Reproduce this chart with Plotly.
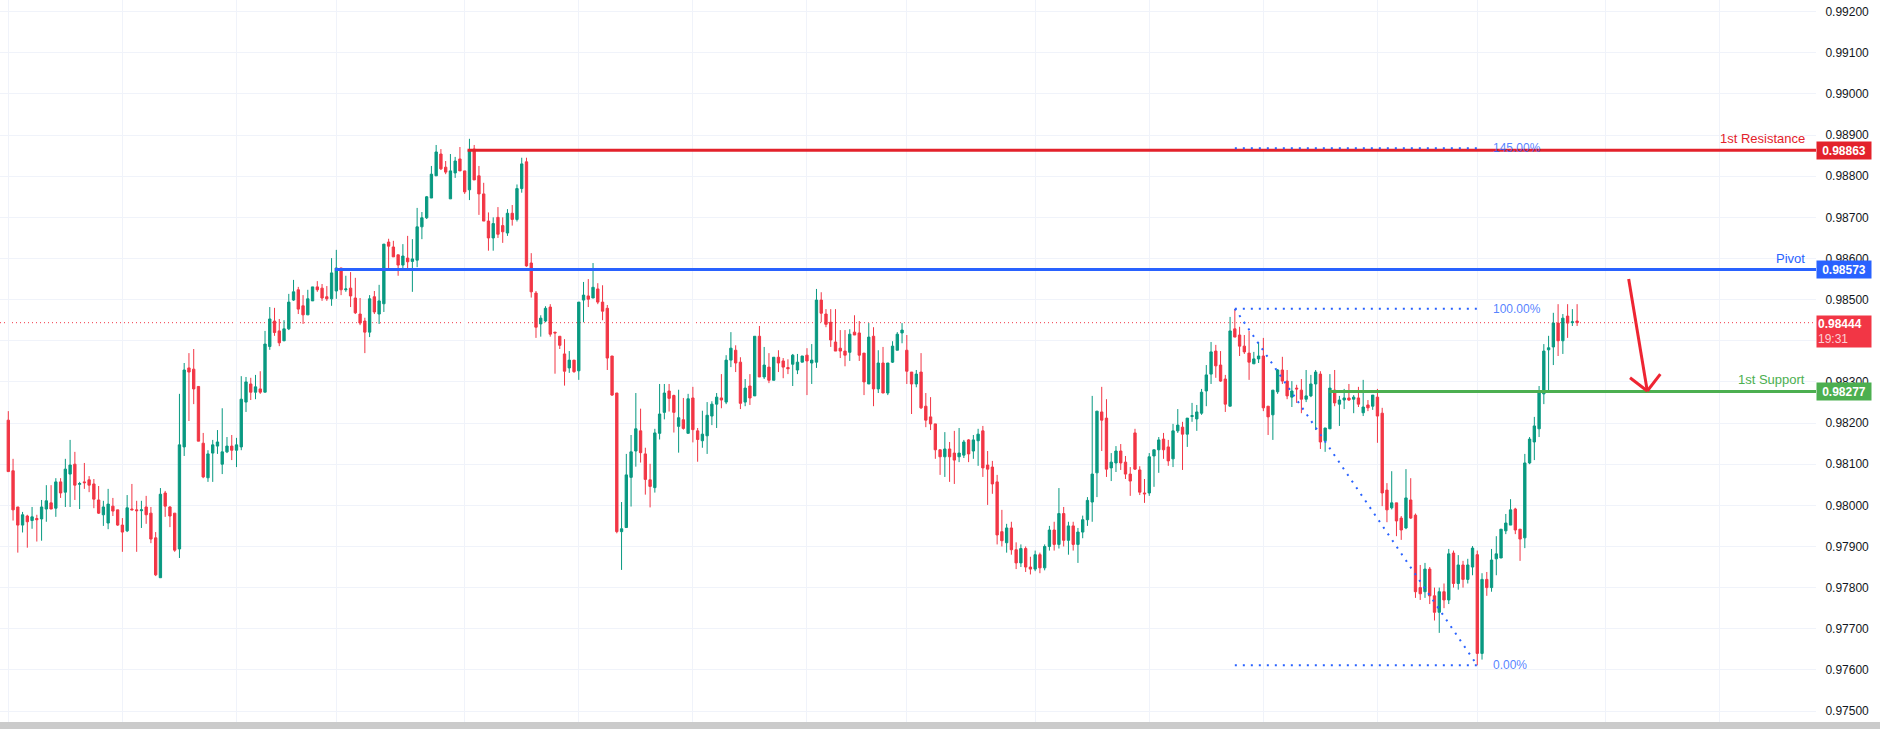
import plotly.graph_objects as go

# OHLC values in units of 1e-5 (0.98444 -> 98444), one entry per hourly candle
OPEN = [
98207,98084,97996,97952,97974,97963,97968,97967,97991,98006,
97993,98057,98032,98076,98100,98051,98057,98062,98052,98013,
97977,97957,97998,97989,97952,97938,97991,97989,97987,97996,
97981,97921,97824,98030,97996,97981,97894,98142,98334,98331,
98289,98151,98067,98127,98144,98100,98130,98144,98134,98142,
98251,98295,98275,98283,98275,98386,98448,98424,98400,98429,
98499,98524,98485,98463,98497,98531,98528,98507,98502,98521,
98577,98524,98528,98504,98465,98448,98421,98507,98465,98490,
98640,98628,98609,98584,98601,98593,98596,98677,98699,98747,
98801,98854,98822,98745,98808,98842,98813,98767,98866,98801,
98757,98691,98650,98700,98680,98662,98710,98695,98770,98835,
98589,98516,98441,98448,98482,98421,98411,98368,98334,98353,
98327,98499,98509,98504,98526,98494,98479,98363,98273,97936,
97946,98068,98132,98181,98125,98062,98043,98175,98226,98278,
98267,98192,98208,98175,98261,98181,98157,98169,98217,98246,
98261,98251,98353,98377,98348,98251,98290,98266,98411,98312,
98336,98304,98360,98351,98335,98343,98329,98348,98365,98346,
98348,98499,98465,98445,98397,98382,98375,98372,98421,98419,
98370,98295,98411,98283,98346,98273,98348,98377,98419,98377,
98324,98295,98324,98241,98215,98198,98135,98118,98137,98127,
98118,98122,98159,98132,98157,98181,98098,98093,98057,97936,
97909,97945,97892,97860,97895,97850,97845,97880,97848,97900,
97940,97905,97980,97915,97950,97905,97935,97965,98008,98079,
98227,98212,98091,98103,98132,98105,98076,98176,98086,98030,
98030,98120,98135,98161,98142,98113,98181,98190,98173,98216,
98210,98224,98278,98319,98375,98341,98307,98241,98429,98414,
98387,98370,98344,98356,98363,98241,98220,98276,98329,98302,
98263,98285,98280,98258,98266,98295,98319,98157,98186,98280,
98246,98256,98261,98258,98261,98225,98244,98241,98263,98224,
98037,97994,98006,97969,97945,98013,97976,97800,97790,97845,
97780,97740,97790,97770,97884,97810,97855,97820,97850,97880,
97640,97820,97800,97870,97872,97938,97952,97991,97942,97921,
98103,98154,98186,98271,98378,98385,98443,98400,98460,98444,
98448]
HIGH = [
98229,98113,97996,97984,97977,97996,97977,98013,98049,98049,
98066,98066,98113,98159,98130,98057,98103,98071,98064,98047,
98011,98040,98018,97989,97969,98025,98052,98011,98011,98023,
97996,97935,98042,98035,97998,97981,98271,98346,98370,98380,
98290,98176,98134,98159,98183,98236,98166,98171,98164,98314,
98312,98310,98317,98326,98424,98482,98480,98453,98450,98514,
98548,98531,98511,98524,98531,98545,98538,98533,98601,98621,
98577,98558,98567,98553,98504,98456,98511,98521,98536,98635,
98648,98643,98609,98635,98655,98647,98723,98713,98752,98825,
98876,98866,98837,98854,98847,98871,98813,98891,98876,98825,
98784,98712,98700,98725,98700,98720,98730,98780,98845,98845,
98613,98521,98462,98484,98489,98421,98411,98404,98375,98353,
98494,98543,98550,98589,98540,98535,98487,98363,98273,98008,
98125,98171,98273,98235,98140,98101,98186,98295,98295,98295,
98269,98281,98261,98271,98288,98188,98230,98251,98253,98273,
98319,98365,98421,98389,98360,98307,98319,98411,98436,98385,
98370,98360,98377,98358,98355,98368,98368,98363,98382,98392,
98526,98518,98477,98477,98477,98426,98426,98428,98462,98448,
98370,98443,98433,98377,98385,98346,98399,98421,98443,98414,
98324,98329,98370,98273,98263,98198,98135,98178,98154,98181,
98188,98159,98161,98171,98186,98193,98132,98108,98074,97989,
97955,97960,97910,97905,97900,97875,97890,97885,97905,97950,
97960,98042,97996,97960,97960,97945,97975,98020,98266,98229,
98288,98258,98127,98144,98149,98120,98093,98186,98095,98064,
98127,98135,98166,98176,98159,98198,98234,98203,98212,98249,
98244,98283,98341,98397,98390,98375,98317,98458,98477,98434,
98414,98424,98373,98397,98407,98241,98280,98331,98361,98329,
98302,98293,98307,98329,98317,98329,98326,98188,98319,98329,
98266,98283,98295,98268,98288,98305,98256,98268,98283,98237,
98054,98083,98006,97974,98088,98066,97980,97855,97860,97850,
97800,97800,97810,97894,97890,97879,97865,97870,97901,97890,
97835,97838,97894,97925,97942,97979,98015,97994,97942,98125,
98166,98215,98290,98392,98412,98468,98489,98465,98489,98477,
98489]
LOW = [
98082,97963,97885,97934,97897,97943,97912,97914,97960,97991,
97972,98018,97996,97996,98013,97991,98040,98032,97993,97979,
97950,97942,97974,97950,97887,97935,97989,97887,97945,97955,
97908,97828,97824,97972,97947,97887,97872,98120,98205,98246,
98156,98066,98057,98057,98125,98076,98127,98110,98093,98134,
98227,98256,98258,98271,98275,98378,98412,98387,98399,98426,
98497,98465,98441,98463,98497,98519,98497,98497,98485,98502,
98511,98519,98482,98465,98438,98370,98409,98465,98441,98470,
98572,98604,98558,98575,98572,98519,98579,98647,98696,98747,
98801,98815,98805,98745,98796,98813,98757,98742,98791,98706,
98691,98619,98619,98650,98638,98655,98680,98690,98760,98580,
98505,98407,98410,98445,98410,98320,98380,98291,98322,98322,
98305,98445,98482,98504,98489,98450,98329,98266,97932,97843,
97946,97997,98094,98104,98026,97995,98031,98160,98209,98228,
98177,98128,98184,98175,98153,98106,98140,98125,98195,98188,
98236,98246,98336,98324,98234,98241,98244,98266,98312,98307,
98297,98304,98324,98309,98319,98290,98319,98348,98268,98295,
98334,98445,98433,98385,98375,98358,98338,98351,98414,98351,
98268,98295,98241,98273,98273,98268,98346,98377,98394,98295,
98222,98287,98234,98190,98183,98113,98074,98069,98057,98052,
98105,98115,98105,98113,98096,98069,98001,98028,97905,97900,
97885,97880,97845,97850,97838,97832,97840,97835,97842,97890,
97890,97895,97900,97880,97890,97860,97920,97950,97960,98020,
98132,98069,98059,98081,98086,98064,98023,98086,98025,98006,
98023,98045,98079,98113,98096,98093,98176,98086,98142,98203,
98181,98220,98241,98295,98310,98300,98227,98241,98409,98363,
98368,98305,98344,98346,98229,98171,98159,98271,98295,98258,
98239,98249,98224,98251,98263,98183,98137,98130,98186,98241,
98193,98234,98254,98224,98239,98217,98229,98232,98152,97998,
97959,97990,97925,97916,97942,97967,97775,97770,97775,97760,
97720,97690,97750,97760,97800,97795,97800,97810,97830,97611,
97625,97780,97790,97830,97872,97930,97952,97930,97865,97896,
98100,98110,98166,98246,98278,98341,98363,98368,98407,98436,
98436]
CLOSE = [
98082,97989,97952,97977,97960,97972,97965,97996,98011,97991,
98057,98030,98088,98098,98049,98053,98055,98049,98015,97981,
97996,98003,97986,97952,97935,97994,97989,97987,97989,97977,
97918,97831,98027,97998,97974,97891,98147,98329,98324,98283,
98156,98069,98125,98147,98154,98130,98144,98134,98147,98258,
98300,98275,98288,98275,98392,98453,98420,98395,98429,98494,
98519,98477,98463,98502,98531,98524,98504,98502,98565,98577,
98524,98526,98509,98468,98443,98421,98502,98470,98497,98635,
98630,98604,98584,98606,98592,98599,98677,98699,98750,98805,
98859,98818,98810,98813,98837,98813,98762,98864,98791,98757,
98691,98650,98685,98659,98665,98710,98695,98770,98830,98582,
98519,98433,98455,98479,98416,98419,98389,98326,98353,98325,
98494,98511,98501,98530,98494,98472,98358,98268,97936,97943,
98074,98130,98186,98128,98063,98046,98176,98222,98273,98260,
98226,98213,98187,98259,98184,98160,98173,98219,98246,98263,
98256,98353,98382,98346,98248,98285,98261,98411,98312,98341,
98304,98360,98346,98336,98332,98365,98348,98363,98351,98353,
98499,98467,98440,98402,98375,98375,98365,98416,98414,98365,
98300,98409,98283,98346,98273,98346,98387,98416,98426,98326,
98295,98319,98237,98207,98198,98135,98118,98137,98118,98110,
98127,98154,98125,98159,98173,98091,98088,98052,97928,97914,
97945,97892,97860,97895,97850,97845,97880,97848,97900,97940,
97905,97980,97915,97950,97905,97935,97965,98012,98076,98229,
98207,98088,98105,98132,98103,98076,98059,98088,98032,98028,
98118,98135,98159,98135,98108,98181,98195,98173,98212,98218,
98227,98275,98317,98373,98339,98302,98246,98424,98409,98387,
98373,98348,98356,98363,98237,98215,98280,98329,98302,98266,
98278,98283,98258,98266,98295,98324,98154,98188,98285,98249,
98256,98261,98256,98263,98246,98239,98237,98268,98217,98030,
97989,98006,97962,97940,98018,97969,97790,97785,97845,97780,
97740,97790,97770,97882,97810,97855,97820,97855,97896,97640,
97820,97800,97867,97882,97942,97957,97989,97940,97918,98103,
98161,98193,98273,98375,98383,98443,98400,98455,98443,98446,
98444]

SCALE = 1e-5
# Horizontal levels
RESISTANCE = 0.98863
PIVOT = 0.98573
SUPPORT = 0.98277
LAST_PRICE = 0.98444
LAST_TIME = "19:31"
# Candle index where each level line starts
RES_START, PIV_START, SUP_START = 96.6, 68.7, 277.9
# Fibonacci tool (anchor candles and prices)
FIB_X0, FIB_X1 = 258, 309
FIB_HIGH, FIB_LOW = 0.98478, 0.97611
FIB_LEVELS = [(1.45, "145.00%"), (1.0, "100.00%"), (0.0, "0.00%")]
FIB_LABEL_X = 311.8
# Arrow annotation (candle index, price)
ARROW_START = (340.85, 0.98550)
ARROW_TIP = (344.76, 0.98278)
ARROW_LEFT = (341.13, 0.98310)
ARROW_RIGHT = (347.5, 0.98319)
# Vertical (time) grid positions, candle index
TIME_GRID = [0, 24, 48, 69, 96, 120, 144, 168, 189, 216, 240, 264, 288, 309, 336, 360]
Y_TICKS = [0.975 + 0.001 * i for i in range(18)]
# price-scale labels hidden under the last-price tag in the reference
HIDDEN_TICKS = ["0.98400"]

X_MIN, X_MAX = -1.746, 380.25
Y_MIN, Y_MAX = 0.974733, 0.992284

GREEN = "#089981"
RED = "#F23645"
N = len(CLOSE)
x = list(range(N))

fig = go.Figure()
fig.add_trace(go.Candlestick(
    x=x,
    open=[v * SCALE for v in OPEN],
    high=[v * SCALE for v in HIGH],
    low=[v * SCALE for v in LOW],
    close=[v * SCALE for v in CLOSE],
    increasing=dict(line=dict(color=GREEN, width=1), fillcolor=GREEN),
    decreasing=dict(line=dict(color=RED, width=1), fillcolor=RED),
    whiskerwidth=0,
    showlegend=False,
    hoverinfo="skip",
))

PLOT_H = 722
shapes = []
shapes.append(dict(type="line", xref="x", yref="y", x0=X_MIN, x1=X_MAX, y0=LAST_PRICE, y1=LAST_PRICE,
                   line=dict(color=RED, width=1, dash="1px,3px"), layer="below"))
for start, price, color in [(RES_START, RESISTANCE, "#E3222B"), (PIV_START, PIVOT, "#2962FF"), (SUP_START, SUPPORT, "#4CAF50")]:
    shapes.append(dict(type="line", xref="x", yref="y", x0=start, x1=X_MAX, y0=price, y1=price,
                       line=dict(color=color, width=3)))
FIB_COLOR = "#2962FF"
for lvl, _ in FIB_LEVELS:
    p = FIB_LOW + lvl * (FIB_HIGH - FIB_LOW)
    shapes.append(dict(type="line", xref="x", yref="y", x0=FIB_X0, x1=FIB_X1, y0=p, y1=p,
                       line=dict(color=FIB_COLOR, width=2, dash="2px,6px")))
shapes.append(dict(type="line", xref="x", yref="y", x0=FIB_X0, x1=FIB_X1, y0=FIB_HIGH, y1=FIB_LOW,
                   line=dict(color=FIB_COLOR, width=2, dash="2px,6px")))
for (ax0, ay0) in [ARROW_START, ARROW_LEFT, ARROW_RIGHT]:
    shapes.append(dict(type="line", xref="x", yref="y", x0=ax0, y0=ay0, x1=ARROW_TIP[0], y1=ARROW_TIP[1],
                       line=dict(color="#EE2532", width=3)))
shapes.append(dict(type="rect", xref="paper", yref="paper", x0=0, x1=1 + 64 / 1816, y0=-7 / PLOT_H, y1=0,
                   fillcolor="#cbcbcb", line=dict(width=0), layer="above"))

FONT = "Liberation Sans, Arial, sans-serif"
ann = []
for txt, price, color in [("1st Resistance", RESISTANCE, "#E3222B"), ("Pivot", PIVOT, "#2962FF"), ("1st Support", SUPPORT, "#4CAF50")]:
    ann.append(dict(xref="paper", yref="y", x=1, y=price, xanchor="right", yanchor="bottom",
                    xshift=-9, yshift=2, text=txt, showarrow=False,
                    font=dict(family=FONT, size=13, color=color)))
for price, color in [(RESISTANCE, "#E3222B"), (PIVOT, "#2962FF"), (SUPPORT, "#4CAF50")]:
    ann.append(dict(xref="paper", yref="y", x=1, y=price, xanchor="left", yanchor="middle",
                    text=f"<b>{price:.5f}</b>", showarrow=False, bgcolor=color, width=52, height=15, borderpad=1,
                    font=dict(family=FONT, size=12, color="white")))
ann.append(dict(xref="paper", yref="y", x=1, y=LAST_PRICE, xanchor="left", yanchor="top", yshift=8,
                text=f"<b>{LAST_PRICE:.5f}</b><br><span style='color:#fcd0d5'>{LAST_TIME}</span>", showarrow=False,
                bgcolor=RED, width=52, height=29, borderpad=1, align="left",
                font=dict(family=FONT, size=12, color="white")))
for lvl, label in FIB_LEVELS:
    p = FIB_LOW + lvl * (FIB_HIGH - FIB_LOW)
    ann.append(dict(xref="x", yref="y", x=FIB_LABEL_X, y=p, xanchor="left", yanchor="middle",
                    text=label, showarrow=False, font=dict(family=FONT, size=12, color="rgba(41,98,255,0.8)")))

tick_text = []
for v in Y_TICKS:
    s = f"{v:.5f}"
    tick_text.append("" if s in HIDDEN_TICKS else s)

fig.update_layout(
    width=1880, height=729,
    margin=dict(l=0, r=64, t=0, b=7),
    plot_bgcolor="white", paper_bgcolor="white",
    shapes=shapes, annotations=ann,
    xaxis=dict(range=[X_MIN, X_MAX], tickvals=TIME_GRID, showticklabels=False, showgrid=True,
               gridcolor="#f0f3fa", gridwidth=1, zeroline=False, rangeslider=dict(visible=False),
               ticks="", showline=False),
    yaxis=dict(range=[Y_MIN, Y_MAX], side="right", tickvals=Y_TICKS, ticktext=tick_text,
               showgrid=True, gridcolor="#f0f3fa", gridwidth=1, zeroline=False, ticks="outside", ticklen=6,
               tickcolor="rgba(0,0,0,0)", tickfont=dict(family=FONT, size=12, color="#131722"), showline=False),
    boxgap=0.3,
)

fig.write_html("out.html")
